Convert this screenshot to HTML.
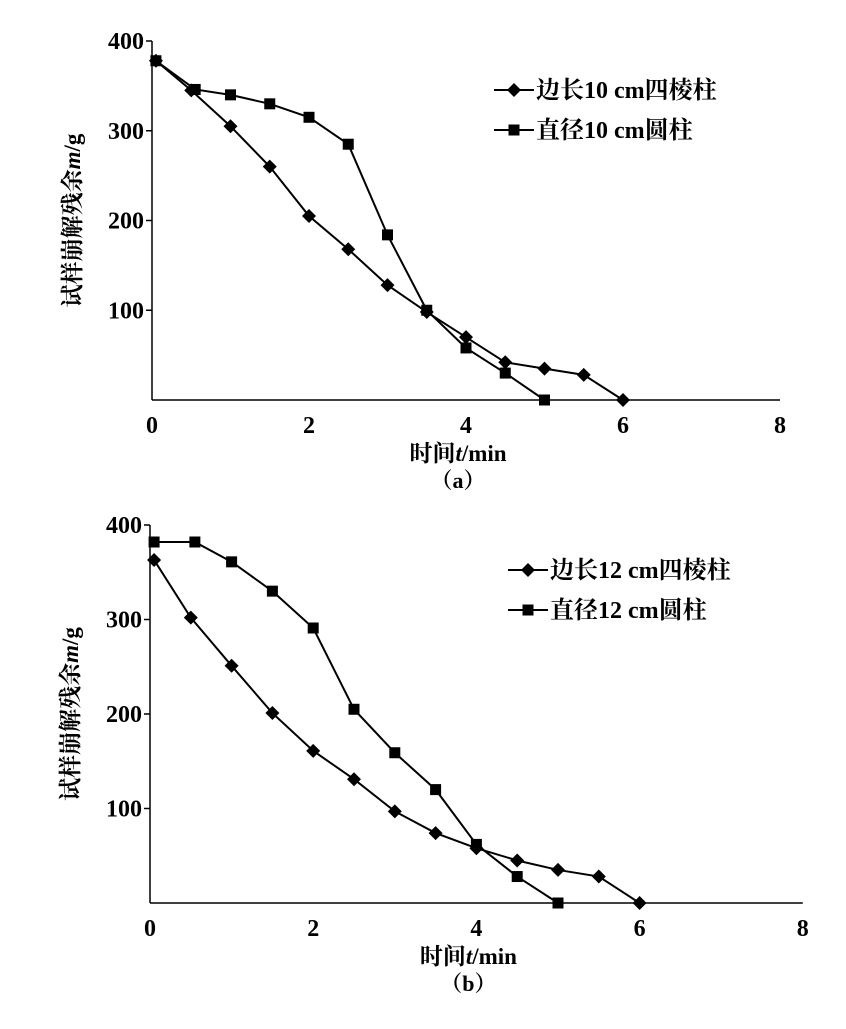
<!DOCTYPE html>
<html><head><meta charset="utf-8"><style>
html,body{margin:0;padding:0;background:#fff;}
svg{display:block;}
text{font-family:"Liberation Serif","Noto Serif CJK SC",serif;fill:#000;font-weight:bold;}
</style></head><body>
<svg id="s" width="846" height="1029" xmlns="http://www.w3.org/2000/svg"></svg>
<script>
const s=document.getElementById('s');let h='';
function chart(c){
 const X=v=>c.x0+v*c.xs, Y=v=>c.y0-v*c.ys;
 h+=`<line x1="${c.x0}" y1="${Y(400)}" x2="${c.x0}" y2="${c.y0}" stroke="#000" stroke-width="1.5"/>`;
 h+=`<line x1="${c.x0}" y1="${c.y0}" x2="${X(8)}" y2="${c.y0}" stroke="#000" stroke-width="1.5"/>`;
 for(const v of [100,200,300,400]){h+=`<line x1="${c.x0-6}" y1="${Y(v)}" x2="${c.x0}" y2="${Y(v)}" stroke="#000" stroke-width="1.5"/>`;
  h+=`<text x="${c.x0-8}" y="${Y(v)+8}" font-size="24" text-anchor="end">${v}</text>`;}
 for(const v of [0,2,4,6,8]){h+=`<text x="${X(v)}" y="${c.y0+33}" font-size="24" text-anchor="middle">${v}</text>`;}
 h+=`<text x="${(X(0)+X(8))/2-8}" y="${c.y0+61}" font-size="23" text-anchor="middle">时间<tspan font-style="italic">t</tspan>/min</text>`;
 h+=`<text x="${(X(0)+X(8))/2-8}" y="${c.y0+88}" font-size="22" text-anchor="middle">（${c.lab}）</text>`;
 const cy=(Y(400)+c.y0)/2;
 h+=`<text transform="translate(${c.x0-72},${cy}) rotate(-90)" font-size="23" text-anchor="middle">试样崩解残余<tspan font-style="italic">m</tspan>/g</text>`;
 const line=(d)=>`<polyline fill="none" stroke="#000" stroke-width="2" points="${d.map(p=>X(p[0])+','+Y(p[1])).join(' ')}"/>`;
 h+=line(c.d)+line(c.q);
 const dia=(x,y,r)=>`<polygon points="${x},${y-r} ${x+r},${y} ${x},${y+r} ${x-r},${y}" fill="#000"/>`;
 const sq=(x,y,r)=>`<rect x="${x-r}" y="${y-r}" width="${2*r}" height="${2*r}" fill="#000"/>`;
 c.d.forEach(p=>h+=dia(X(p[0]),Y(p[1]),7));
 c.q.forEach(p=>h+=sq(X(p[0]),Y(p[1]),5.5));
 const lx=c.lx,ly=c.ly;
 h+=`<line x1="${lx}" y1="${ly}" x2="${lx+40}" y2="${ly}" stroke="#000" stroke-width="2"/>`+dia(lx+20,ly,7);
 h+=`<text x="${lx+42}" y="${ly+8}" font-size="24">${c.t1}</text>`;
 h+=`<line x1="${lx}" y1="${ly+40}" x2="${lx+40}" y2="${ly+40}" stroke="#000" stroke-width="2"/>`+sq(lx+20,ly+40,5.5);
 h+=`<text x="${lx+42}" y="${ly+48}" font-size="24">${c.t2}</text>`;
}
chart({x0:152,y0:400,xs:78.5,ys:0.8975,lab:'a',lx:494,ly:90,t1:'边长10 cm四棱柱',t2:'直径10 cm圆柱',
 d:[[0.05,378],[0.5,345],[1,305],[1.5,260],[2,205],[2.5,168],[3,128],[3.5,98],[4,70],[4.5,42],[5,35],[5.5,28],[6,0]],
 q:[[0.05,378],[0.55,346],[1,340],[1.5,330],[2,315],[2.5,285],[3,184],[3.5,100],[4,58],[4.5,30],[5,0]]});
chart({x0:150,y0:903,xs:81.6,ys:0.945,lab:'b',lx:508,ly:570,t1:'边长12 cm四棱柱',t2:'直径12 cm圆柱',
 d:[[0.05,363],[0.5,302],[1,251],[1.5,201],[2,161],[2.5,131],[3,97],[3.5,74],[4,58],[4.5,45],[5,35],[5.5,28],[6,0]],
 q:[[0.05,382],[0.55,382],[1,361],[1.5,330],[2,291],[2.5,205],[3,159],[3.5,120],[4,62],[4.5,28],[5,0]]});
s.innerHTML=h;
</script>
</body></html>
